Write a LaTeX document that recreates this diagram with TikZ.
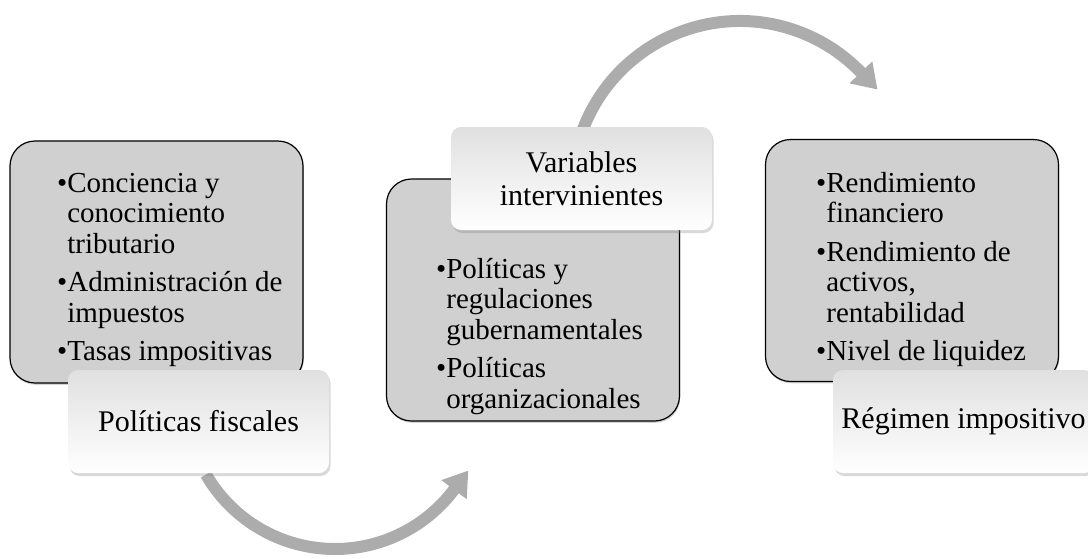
\documentclass[tikz,border=0pt]{standalone}
\usepackage{fontspec}
\setmainfont{Liberation Serif}
\usetikzlibrary{arrows.meta,shadows}
\definecolor{boxgray}{RGB}{208,208,208}
\definecolor{arrowgray}{RGB}{172,172,172}
\definecolor{whitebot}{RGB}{224,224,224}
\newcommand{\bl}{\textbullet}
\begin{document}
\begin{tikzpicture}[x=1pt,y=-1pt,
  graybox/.style={draw=black, line width=1.2pt, fill=boxgray, rounded corners=25pt,
    minimum width=293pt, minimum height=242pt, inner sep=0pt,
    drop shadow={shadow xshift=0.8pt, shadow yshift=-1.8pt, opacity=0.35}},
  whitebox/.style={rounded corners=10pt, minimum width=261pt, minimum height=103pt,
    inner sep=0pt, top color=whitebot, middle color=white, bottom color=white,
    drop shadow={shadow xshift=1.5pt, shadow yshift=-3pt, opacity=0.3},
    align=center, font=\fontsize{30}{33}\selectfont},
  listtext/.style={anchor=base west, inner sep=0pt, font=\fontsize{29}{30.5}\selectfont},
  flow/.style={draw=arrowgray, line width=12pt, -{Triangle[width=30pt,length=24pt]}}
]
\useasboundingbox (0,0) rectangle (1088,558);
% circular arrows
\coordinate (c1) at (335,400);
\coordinate (c2) at (740,189);
\draw[flow] ([shift={(150:149)}]c1) arc[start angle=150, end angle=37, radius=149] -- ++(14.4,-19.2);
\draw[flow] ([shift={(200:168)}]c2) arc[start angle=200, end angle=316, radius=168] -- ++(16.7,17.3);
% gray boxes
\node[graybox] (g1) at (156.5,262) {};
\node[graybox] (g2) at (533,300) {};
\node[graybox] (g3) at (912,260.5) {};
\node[listtext] (t1) at (57,192) {\begin{tabular}[t]{@{}l@{}l@{}}
\bl & Conciencia y\\ & conocimiento\\ & tributario\\[8pt]
\bl & Administración de\\ & impuestos\\[8pt]
\bl & Tasas impositivas\end{tabular}};
\node[listtext] (t2) at (436,278) {\begin{tabular}[t]{@{}l@{}l@{}}
\bl & Políticas y\\ & regulaciones\\ & gubernamentales\\[8pt]
\bl & Políticas\\ & organizacionales\end{tabular}};
\node[listtext] (t3) at (816,192) {\begin{tabular}[t]{@{}l@{}l@{}}
\bl & Rendimiento\\ & financiero\\[8pt]
\bl & Rendimiento de\\ & activos,\\ & rentabilidad\\[8pt]
\bl & Nivel de liquidez\end{tabular}};
% white boxes
\node[whitebox] (w1) at (198.5,421.5) {Políticas fiscales};
\node[whitebox] (w2) at (581.5,178.5) {Variables\\intervinientes};
\node[whitebox] (w3) at (963.5,421.5) {Régimen impositivo};
\end{tikzpicture}
\end{document}
